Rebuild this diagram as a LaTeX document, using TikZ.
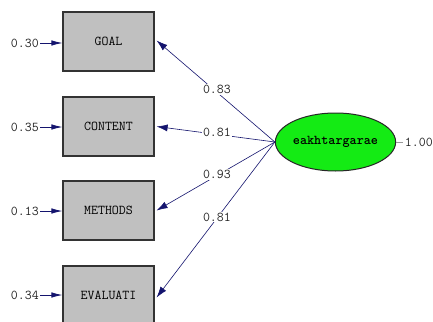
\documentclass[tikz,border=0pt]{standalone}
\usepackage{fontspec}
\usetikzlibrary{arrows.meta,shapes.geometric}
\definecolor{navy}{RGB}{20,20,110}
\definecolor{boxgray}{RGB}{192,192,192}
\definecolor{latgreen}{RGB}{20,235,20}
\begin{document}
\begin{tikzpicture}[x=1pt,y=-1pt,
  every node/.style={font=\ttfamily\fontsize{13.5}{15}\selectfont},
  obs/.style={draw=black!80,line width=1.2pt,fill=boxgray,minimum width=91pt,minimum height=59pt,inner sep=0pt},
  lat/.style={ellipse,draw=black!85,line width=1pt,fill=latgreen,minimum width=89pt,minimum height=58pt,inner sep=0pt},
  load/.style={draw=navy,line width=0.6pt,-{Latex[length=11pt,width=7pt]}},
  err/.style={draw=navy,line width=0.8pt,-{Latex[length=11pt,width=5.5pt]}},
  lbl/.style={fill=white,inner sep=1pt,text=black!85},
  txt/.style={inner sep=1pt,text=black!85}]
\clip (0,0) rectangle (433,321);
\fill[white] (0,0) rectangle (433,321);
\node[obs] (goal) at (108.5,41.5) {GOAL};
\node[obs] (content) at (108.5,126.5) {CONTENT};
\node[obs] (methods) at (108.5,210.5) {METHODS};
\node[obs] (evaluati) at (108.5,295.5) {EVALUATI};
\node[lat] (eta) at (335.5,142) {\bfseries eakhtargarae};
\node[txt,anchor=east] (e1) at (40,43) {0.30};
\node[txt,anchor=east] (e2) at (40,127) {0.35};
\node[txt,anchor=east] (e3) at (40,211) {0.13};
\node[txt,anchor=east] (e4) at (40,295) {0.34};
\draw[err] (e1.east) -- (goal.west |- e1.east);
\draw[err] (e2.east) -- (content.west |- e2.east);
\draw[err] (e3.east) -- (methods.west |- e3.east);
\draw[err] (e4.east) -- (evaluati.west |- e4.east);
\draw[load] (eta.west) -- node[lbl,pos=0.49,yshift=3pt] {0.83} ([xshift=2pt,yshift=1pt]goal.east);
\draw[load] (eta.west) -- node[lbl,pos=0.49,yshift=2pt] {0.81} ([xshift=2pt]content.east);
\draw[load] (eta.west) -- node[lbl,pos=0.49,yshift=1pt] {0.93} ([xshift=2pt]methods.east);
\draw[load] (eta.west) -- node[lbl,pos=0.49,yshift=1pt] {0.81} ([xshift=2pt,yshift=-2pt]evaluati.east);
\node[txt,anchor=east,inner sep=0pt] (var) at (433,142) {1.00};
\draw[black!40,line width=0.6pt] (eta.east) -- ([xshift=-2pt]var.west);
\end{tikzpicture}
\end{document}
